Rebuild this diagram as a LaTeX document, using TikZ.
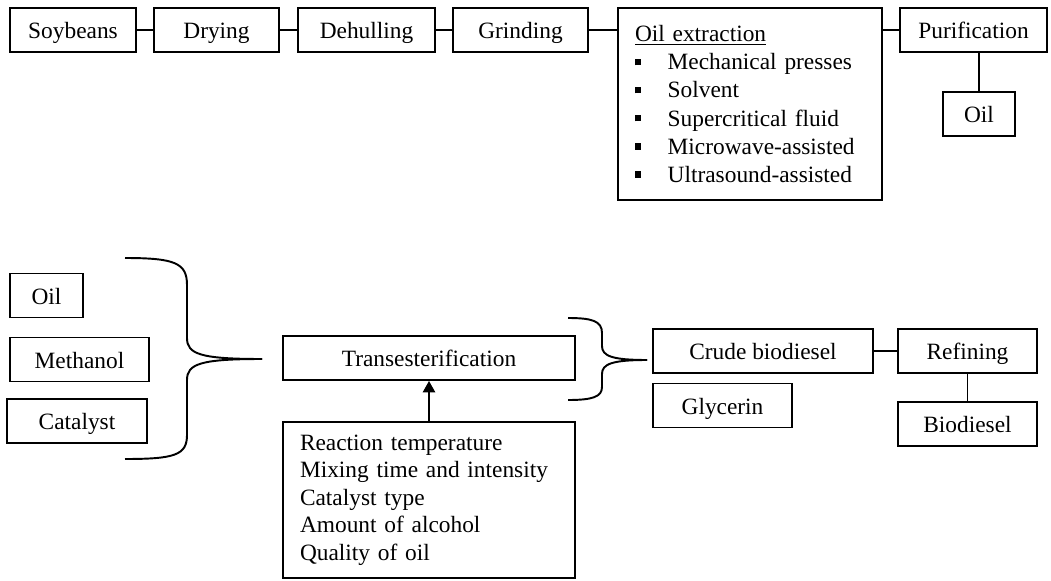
\documentclass[tikz,border=0pt]{standalone}
\usepackage{fontspec}
\setmainfont{Liberation Serif}
\usetikzlibrary{arrows.meta,positioning}
\newcommand{\sqbullet}{\rule[2.6pt]{3.6pt}{3.6pt}\hspace{15pt}}

\begin{document}
\begin{tikzpicture}[x=0.02cm, y=-0.02cm,
  font=\fontsize{13.3}{15.6}\selectfont,
  stage/.style={draw, line width=1.1pt, minimum height=0.88cm, inner sep=0pt,
    text height=9.8pt, text depth=0pt},
  listbox/.style={draw, line width=1.1pt, align=left, inner xsep=0.34cm},
  link/.style={line width=1.1pt},
  bracket/.style={line width=1.1pt}]
\useasboundingbox (0,0) rectangle (1051,581);

% soybean processing
\node[stage, minimum width=2.52cm] (soy) at (73,30) {Soybeans};
\node[stage, minimum width=2.5cm] (dry) at (216.5,30) {Drying};
\node[stage, minimum width=2.74cm] (dehull) at (366.5,30) {Dehulling};
\node[stage, minimum width=2.7cm] (grind) at (520.5,30) {Grinding};
\node[listbox, text width=4.6cm, minimum height=3.84cm,
  font=\fontsize{13.3}{16}\selectfont] (extract) at (750,104)
  {\underline{Oil extraction}\\
   \sqbullet Mechanical presses\\
   \sqbullet Solvent\\
   \sqbullet Supercritical fluid\\
   \sqbullet Microwave-assisted\\
   \sqbullet Ultrasound-assisted};
\node[stage, minimum width=2.94cm] (purif) at (973.5,30) {Purification};
\node[stage, minimum width=1.44cm] (oilA) at (979,114) {Oil};

\draw[link] (soy) -- (dry);
\draw[link] (dry) -- (dehull);
\draw[link] (dehull) -- (grind);
\draw[link] (grind) -- (grind -| extract.west);
\draw[link] (extract.east |- purif) -- (purif);
\draw[link] (oilA |- purif.south) -- (oilA);

% transesterification
\node[stage, minimum width=1.46cm] (oilB) at (46.5,295.5) {Oil};
\node[stage, minimum width=2.78cm] (meth) at (79.5,359.5) {Methanol};
\node[stage, minimum width=2.8cm] (cat) at (77,421) {Catalyst};

\draw[bracket] (125,258) .. controls (175,258) and (187,263) .. (187,285)
  -- (187,338) .. controls (187,354) and (200,359) .. (262,359);
\draw[bracket] (262,359) .. controls (200,359) and (187,364) .. (187,380)
  -- (187,435) .. controls (187,455) and (175,459) .. (125,459);

\node[stage, minimum width=5.84cm] (trans) at (429,358) {Transesterification};
\node[listbox, text width=5.16cm, minimum height=3.12cm] (params) at (429,500)
  {Reaction temperature\\
   Mixing time and intensity\\
   Catalyst type\\
   Amount of alcohol\\
   Quality of oil};
\draw[link, -{Triangle[length=6.5pt, width=7pt]}] (params.north) -- (trans.south);

\draw[bracket] (568,318) .. controls (592,318) and (602,321) .. (602,333)
  -- (602,346) .. controls (602,356) and (612,360) .. (647,360);
\draw[bracket] (647,360) .. controls (612,360) and (602,364) .. (602,374)
  -- (602,387) .. controls (602,397) and (592,400) .. (568,400);

\node[stage, minimum width=4.4cm] (crude) at (763,351) {Crude biodiesel};
\node[stage, minimum width=2.78cm] (glyc) at (722.5,405.5) {Glycerin};
\node[stage, minimum width=2.78cm] (refin) at (967.5,351) {Refining};
\node[stage, minimum width=2.78cm] (biod) at (967.5,424) {Biodiesel};

\draw[link] (crude) -- (refin);
\draw[link] (refin) -- (biod);
\end{tikzpicture}
\end{document}
